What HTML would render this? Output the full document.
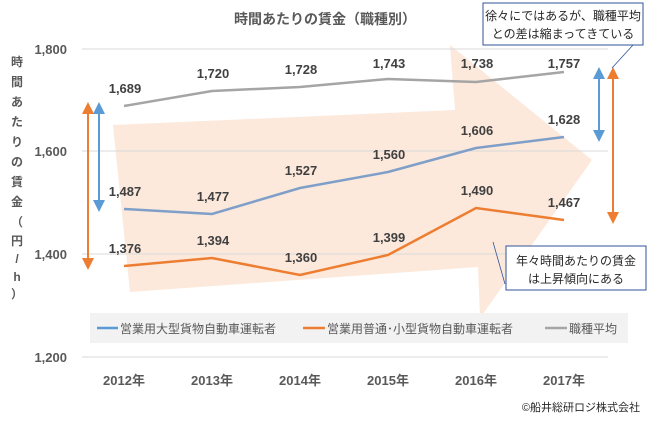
<!DOCTYPE html>
<html><head><meta charset="utf-8"><style>
body{margin:0;background:#fff}
text{font-family:"Liberation Sans","Noto Sans CJK JP",sans-serif}
</style></head><body>
<svg width="650" height="420" viewBox="0 0 650 420" xmlns="http://www.w3.org/2000/svg">
<polygon points="113,125 455,110 450,45 592,160 480,318 478,267 130,292" fill="#fbe5d6" opacity="0.85"/>
<g stroke="#d9d9d9" stroke-width="1">
<line x1="82" y1="49" x2="608" y2="49"/>
<line x1="82" y1="151" x2="608" y2="151"/>
<line x1="82" y1="254" x2="608" y2="254"/>
<line x1="82" y1="357" x2="608" y2="357"/>
</g>
<text x="325" y="24" font-size="14" font-weight="bold" fill="#595959" text-anchor="middle">時間あたりの賃金（職種別）</text>
<g font-size="13" font-weight="bold" fill="#595959" text-anchor="end">
<text x="67" y="54">1,800</text><text x="67" y="156">1,600</text><text x="67" y="259">1,400</text><text x="67" y="362">1,200</text>
</g>
<g font-size="12" font-weight="bold" fill="#595959" text-anchor="middle">
<text x="17" y="66">時</text><text x="17" y="86">間</text><text x="17" y="106">あ</text><text x="17" y="126">た</text><text x="17" y="146">り</text><text x="17" y="166">の</text><text x="17" y="186">賃</text><text x="17" y="206">金</text><text x="17" y="226">（</text><text x="17" y="245">円</text><text x="17" y="263">/</text><text x="17" y="281">h</text><text x="17" y="298">）</text>
</g>
<polyline points="124,106 212,91 300,87 388,79 476,82 564,72" fill="none" stroke="#a5a5a5" stroke-width="2.5"/>
<polyline points="124,209 212,214 300,188 388,172 476,148 564,137" fill="none" stroke="#7f9fc9" stroke-width="2.5"/>
<polyline points="124,266 212,258 300,275 388,255 476,208 564,220" fill="none" stroke="#ed7d31" stroke-width="2.5"/>
<g font-size="13" font-weight="bold" fill="#404040" text-anchor="middle">
<text x="125" y="93">1,689</text><text x="213" y="78">1,720</text><text x="301" y="74">1,728</text><text x="389" y="68">1,743</text><text x="477" y="68">1,738</text><text x="564" y="68">1,757</text>
<text x="125" y="196">1,487</text><text x="213" y="201">1,477</text><text x="301" y="175">1,527</text><text x="389" y="159">1,560</text><text x="477" y="135">1,606</text><text x="564" y="124">1,628</text>
<text x="125" y="253">1,376</text><text x="213" y="245">1,394</text><text x="301" y="262">1,360</text><text x="389" y="242">1,399</text><text x="477" y="195">1,490</text><text x="564" y="207">1,467</text>
</g>
<g font-size="13" font-weight="bold" fill="#595959" text-anchor="middle">
<text x="124" y="385">2012年</text><text x="212" y="385">2013年</text><text x="300" y="385">2014年</text><text x="388" y="385">2015年</text><text x="476" y="385">2016年</text><text x="564" y="385">2017年</text>
</g>
<rect x="90" y="313" width="538" height="30" fill="#f2f2f2"/>
<g font-size="12" fill="#595959">
<line x1="97" y1="328" x2="118" y2="328" stroke="#5b9bd5" stroke-width="2.5"/><text x="120" y="333">営業用大型貨物自動車運転者</text>
<line x1="303" y1="328" x2="325" y2="328" stroke="#ed7d31" stroke-width="2.5"/><text x="327" y="333">営業用普通･小型貨物自動車運転者</text>
<line x1="545" y1="328" x2="567" y2="328" stroke="#a5a5a5" stroke-width="2.5"/><text x="569" y="333">職種平均</text>
</g>
<defs>
<marker id="ab" markerWidth="6" markerHeight="6" refX="3" refY="3" orient="auto-start-reverse"><path d="M0,0 L6,3 L0,6z" fill="#5b9bd5"/></marker>
<marker id="ao" markerWidth="6" markerHeight="6" refX="3" refY="3" orient="auto-start-reverse"><path d="M0,0 L6,3 L0,6z" fill="#ed7d31"/></marker>
</defs>
<line x1="88" y1="108" x2="88" y2="264" stroke="#ed7d31" stroke-width="2" marker-start="url(#ao)" marker-end="url(#ao)"/>
<line x1="99" y1="108" x2="99" y2="206" stroke="#5b9bd5" stroke-width="2" marker-start="url(#ab)" marker-end="url(#ab)"/>
<line x1="599" y1="73" x2="599" y2="136" stroke="#5b9bd5" stroke-width="2" marker-start="url(#ab)" marker-end="url(#ab)"/>
<line x1="613" y1="73" x2="613" y2="218" stroke="#ed7d31" stroke-width="2" marker-start="url(#ao)" marker-end="url(#ao)"/>
<line x1="612" y1="68" x2="633" y2="45" stroke="#2f5597" stroke-width="0.8"/>
<rect x="483" y="3" width="160" height="42" fill="#fff" stroke="#2f5597"/>
<text x="563" y="20" font-size="12" fill="#262626" text-anchor="middle">徐々にではあるが、職種平均</text>
<text x="563" y="38" font-size="12" fill="#262626" text-anchor="middle">との差は縮まってきている</text>
<line x1="493" y1="242" x2="505" y2="284" stroke="#2f5597" stroke-width="0.8"/>
<rect x="506" y="246" width="140" height="44" fill="#fff" stroke="#2f5597"/>
<text x="576" y="265" font-size="12" fill="#262626" text-anchor="middle">年々時間あたりの賃金</text>
<text x="576" y="283" font-size="12" fill="#262626" text-anchor="middle">は上昇傾向にある</text>
<text x="640" y="411" font-size="11" fill="#262626" text-anchor="end">©船井総研ロジ株式会社</text>
</svg>
</body></html>
